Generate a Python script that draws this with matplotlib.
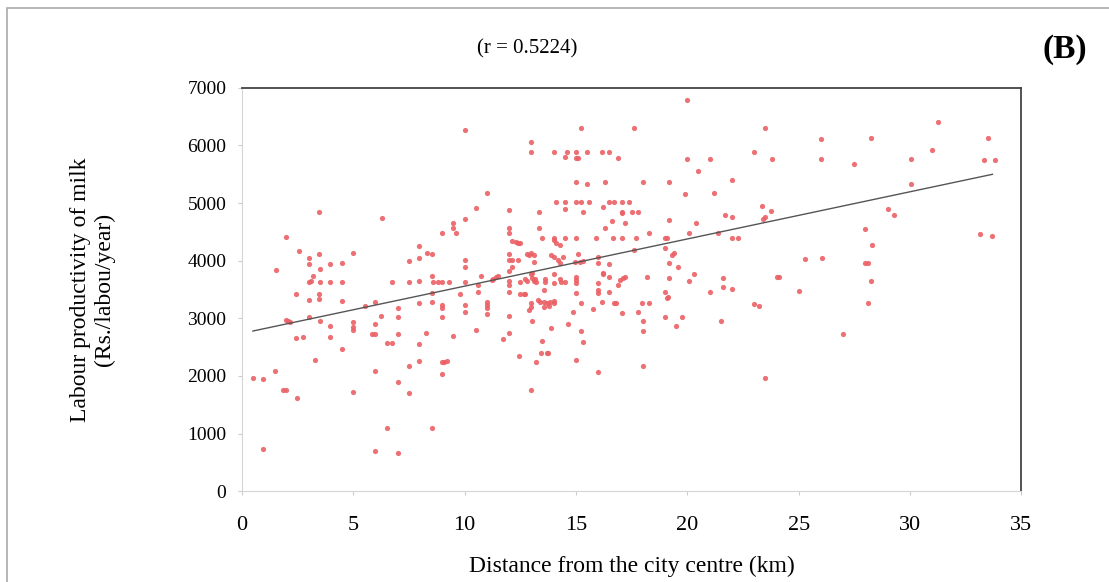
import numpy as np
import matplotlib.pyplot as plt
from matplotlib.patches import Rectangle

# points, split by distance band
# near the city (0-10 km)
near_km = [0.5, 0.95, 1.5, 1.85, 1.98, 2.46, 0.95, 2.45, 2.45, 2.75, 1.98, 2.07, 2.16,
           3.0, 3.0, 3.46, 3.46, 3.5, 3.28, 3.96, 3.96, 4.5, 4.5, 5.0, 5.0, 5.0, 5.0,
           5.53, 5.85, 6.0, 6.0, 6.0, 6.0, 6.0, 6.25, 6.5, 6.75, 6.5, 7.0, 7.0, 7.0,
           7.0, 7.0, 7.5, 7.5, 7.96, 7.96, 7.96, 8.28, 8.55, 8.55, 8.55, 9.0, 9.0,
           9.0, 9.0, 9.1, 9.2, 9.0, 9.5, 9.8,
           3.46, 6.3, 1.98, 9.5, 9.5, 9.0, 9.6, 2.56, 3.0, 3.46, 5.0, 7.96, 7.96,
           8.3, 8.55, 7.5, 1.53, 3.0, 3.96, 4.5, 3.5, 3.2, 3.0, 3.1, 3.5, 3.96, 4.5,
           6.75, 7.5, 7.96, 8.6, 8.8, 9.0, 9.3, 8.55]
near_prod = [1963, 1945, 2084, 1754, 1754, 1615, 730, 3422, 2658, 2675, 2970, 2953, 2936,
             3023, 3318, 3422, 3335, 2953, 2275, 2866, 2675, 3300, 2467, 2936, 2849, 2797, 1720,
             3213, 2727, 2727, 3283, 2901, 2084, 695, 3040, 2571, 2571, 1094, 3179, 3023, 2727,
             1893, 660, 2171, 1702, 3266, 2553, 2258, 2744, 3283, 3439, 1094, 3231, 3179,
             3023, 2240, 2240, 2258, 2032, 2692, 3422,
             4846, 4742, 4412, 4655, 4568, 4481, 4481, 4169, 4047, 4117, 4134, 4256, 4047,
             4134, 4117, 3995, 3839, 3943, 3943, 3960, 3856, 3735, 3630, 3650, 3630, 3630, 3630,
             3630, 3630, 3650, 3630, 3630, 3630, 3630, 3735]

# middle band (10-20 km)
mid_km = [10.0, 11.0, 10.5, 10.0, 10.0, 10.0, 10.0, 10.75, 11.3, 11.5, 10.6,
          10.0, 10.0, 10.5, 10.6, 11.0, 11.0, 11.0, 11.0,
          15.25, 17.6, 13.0, 13.0, 14.0, 14.6, 15.0, 15.5, 16.15, 16.5, 14.5, 15.0, 15.1,
          16.9, 20.0, 15.0, 15.5, 16.3, 18.0, 19.2, 19.9, 14.1, 14.5, 15.0, 15.25, 15.6,
          16.5, 16.7, 17.05, 17.4, 14.5, 16.2, 17.05, 17.05, 17.5, 17.8, 15.3, 12.0, 13.35,
          13.35, 12.0, 12.0, 16.6, 17.2, 16.3, 19.2, 18.3, 13.5, 14.0, 14.5, 15.0, 15.9,
          16.65, 17.05, 17.7, 19.0, 19.1, 14.0, 14.1, 14.3, 12.15, 12.3, 12.4, 12.5, 19.0,
          19.4, 19.3, 19.2, 19.6, 17.6, 16.0, 15.3, 15.2, 16.5, 16.0, 15.1, 14.95, 14.4,
          13.9, 14.0, 14.2, 14.3, 12.8, 12.9, 13.0, 13.1, 13.1, 12.0, 12.0, 12.15, 12.4,
          12.15, 12.0, 11.4, 11.25, 12.0, 12.5, 12.8, 13.0, 13.1, 13.2, 13.6, 14.0, 14.35,
          14.5, 15.0, 15.0, 16.0, 16.2, 16.5, 17.1, 17.2, 18.2, 19.2,
          12.0, 12.0, 13.05, 13.05, 12.7, 13.15, 13.6, 14.0, 14.3, 15.0, 15.0, 16.0, 16.0,
          16.2, 16.5, 16.9, 17.0, 12.0, 12.0, 11.75, 12.5, 12.65, 12.7, 13.0, 13.0, 12.9,
          13.05, 13.3, 13.4, 13.55, 13.7, 13.85, 14.0, 14.0, 13.55, 13.55, 13.8, 13.9, 13.5,
          13.45, 13.7, 13.75, 12.45, 13.2, 13.0, 14.65, 14.85, 15.25, 15.25, 15.3, 15.0,
          15.75, 16.0, 16.15, 16.7, 16.8, 17.05, 17.8, 18.0, 18.0, 18.0, 17.95, 18.3, 19.0,
          19.07, 19.15, 19.0, 19.5, 19.75]
mid_prod = [6270, 5170, 4916, 4725, 4012, 3891, 3630, 3735, 3683, 3735, 3578,
            3231, 3109, 2797, 3457, 3283, 3231, 3179, 3075,
            6305, 6305, 6062, 5888, 5888, 5888, 5888, 5888, 5888, 5888, 5801, 5784, 5784,
            5784, 6792, 5367, 5332, 5367, 5367, 5367, 5159, 5020, 5020, 5020, 5020, 5020,
            5020, 5020, 5020, 5020, 4898, 4933, 4846, 4820, 4846, 4846, 4846, 4881, 4846,
            4563, 4563, 4476, 4690, 4655, 4568, 4707, 4476, 4390, 4390, 4390, 4390, 4390,
            4390, 4390, 4390, 4390, 4390, 4360, 4308, 4273, 4350, 4325, 4308, 4308, 4220,
            4134, 4100, 3960, 3891, 4186, 4065, 3995, 3978, 3943, 3960, 4117, 3978, 4065,
            4100, 4065, 4012, 3960, 4117, 4100, 4134, 4100, 3978, 4117, 4012, 4012, 4012,
            3891, 3822, 3717, 3665, 3648, 3630, 3648, 3770, 3648, 3630, 3630, 3617, 3630,
            3630, 3717, 3617, 3617, 3770, 3717, 3700, 3720, 3717, 3700,
            3578, 3457, 3787, 3700, 3683, 3683, 3683, 3770, 3683, 3665, 3440, 3492, 3440,
            3787, 3457, 3580, 3665, 3040, 2744, 2640, 3422, 3422, 3422, 3266, 3196, 3144,
            2953, 3318, 3283, 3283, 3266, 3283, 3300, 3266, 3491, 3196, 3213, 2831, 2605,
            2397, 2397, 2397, 2345, 2240, 1754, 2901, 3109, 3266, 2779, 2588, 2275,
            3161, 2067, 3283, 3266, 3266, 3092, 3109, 2953, 2779, 2171, 3266, 3266, 3457,
            3352, 3370, 3023, 2866, 3023]

# far band (20-35 km)
far_km = [20.0, 21.0, 20.5, 23.0, 23.5, 23.8, 21.2, 22.0, 21.7, 22.0, 23.35, 23.75,
          23.5, 23.4, 20.06, 22.0, 22.3, 20.4, 20.3, 20.06, 21.6, 21.6, 22.0, 24.1, 21.0,
          21.5, 23.0, 23.2, 21.4,
          26.0, 26.0, 28.25, 27.5, 30.05, 31.0, 31.25, 33.5, 33.3, 33.8, 30.05, 29.0, 29.3,
          28.0, 28.3, 33.15, 33.7, 25.3, 26.05, 28.0, 28.1, 28.25, 24.05, 25.0, 28.1,
          27.0, 23.5]
far_prod = [5766, 5766, 5558, 5888, 6305, 5766, 5176, 5402, 4794, 4760, 4950, 4864,
            4760, 4725, 4476, 4390, 4390, 4655, 3770, 3648, 3700, 3544, 3509, 3717, 3457,
            2953, 3248, 3213, 4476,
            6114, 5766, 6132, 5680, 5766, 5923, 6410, 6132, 5749, 5749, 5332, 4898, 4794,
            4551, 4273, 4464, 4430, 4030, 4047, 3960, 3960, 3648, 3717, 3474, 3266,
            2727, 1963]

# fitted line end points
trend_km = [0.5, 33.7]
trend_prod = [2780, 5500]

x = np.array(near_km + mid_km + far_km)
y = np.array(near_prod + mid_prod + far_prod)

plt.rcParams['font.family'] = ['Liberation Serif', 'DejaVu Serif']

fig = plt.figure(figsize=(11.09, 5.82), dpi=100)
ax = fig.add_axes([0.218, 0.156, 0.703, 0.693])

ax.scatter(x, y, s=14, color='#ea6065', alpha=0.9, linewidths=0, zorder=3)
ax.plot(trend_km, trend_prod, color='#555555', lw=1.0, zorder=4)

ax.set_xlim(0, 35)
ax.set_ylim(0, 7000)
ax.set_xticks(range(0, 36, 5))
ax.set_yticks(range(0, 7001, 1000))
ax.tick_params(axis='x', labelsize=16, length=3, color='#cccccc', pad=15)
ax.tick_params(axis='y', labelsize=14, length=3, color='#cccccc', pad=8)

for side in ['top', 'right']:
    ax.spines[side].set_color('#444444')
    ax.spines[side].set_linewidth(1.3)
for side in ['left', 'bottom']:
    ax.spines[side].set_color('#d5d5d5')
    ax.spines[side].set_linewidth(0.8)

ax.set_xlabel('Distance from the city centre (km)', fontsize=17, labelpad=15)
ax.set_ylabel('Labour productivity of milk\n(Rs./labou/year)', fontsize=17, labelpad=52)

fig.text(0.475, 0.916, '(r = 0.5224)', fontsize=15, ha='center', va='center')
fig.text(0.96, 0.915, '(B)', fontsize=24, fontweight='bold', ha='center', va='center')

# outer frame round the whole figure
fig.patches.append(Rectangle((0.0065, -0.02), 1.05, 1.006, transform=fig.transFigure,
                             fill=False, edgecolor='#aaaaaa', lw=1.2))

fig.savefig('out.png', dpi=100)
